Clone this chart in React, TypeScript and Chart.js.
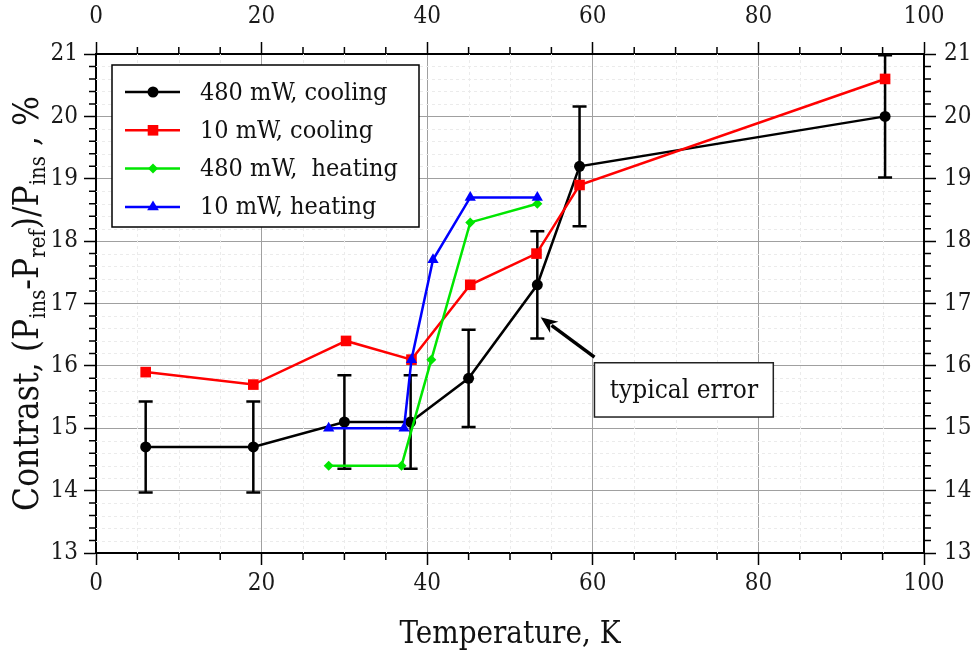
import { useEffect, useRef } from 'react';
import { Chart, registerables } from 'chart.js';

Chart.register(...registerables);

// ---------- data ----------
const seriesLabels = ['480 mW, cooling', '10 mW, cooling', '480 mW,  heating', '10 mW, heating'];

const temperature480Cooling = [6, 19, 30, 38, 45, 53.3, 58.4, 95.3];
const contrast480Cooling = [14.7, 14.7, 15.1, 15.1, 15.8, 17.3, 19.2, 20.0];
const error480Cooling = [0.73, 0.73, 0.75, 0.75, 0.78, 0.86, 0.96, 0.98];

const temperature10Cooling = [6, 19, 30.2, 38.1, 45.2, 53.2, 58.4, 95.3];
const contrast10Cooling = [15.9, 15.7, 16.4, 16.1, 17.3, 17.8, 18.9, 20.6];

const temperature480Heating = [28.1, 36.9, 40.5, 45.2, 53.3];
const contrast480Heating = [14.4, 14.4, 16.1, 18.3, 18.6];

const temperature10Heating = [28.1, 37.2, 38.1, 40.7, 45.2, 53.3];
const contrast10Heating = [15.0, 15.0, 16.1, 17.7, 18.7, 18.7];

const xTickValues = [0, 20, 40, 60, 80, 100];
const yTickValues = [13, 14, 15, 16, 17, 18, 19, 20, 21];

const xAxisTitle = 'Temperature, K';
const annotationText = 'typical error';

// ---------- style ----------
const W = 975;
const H = 657;
const FAMILY = "'DejaVu Serif Condensed', 'DejaVu Serif', serif";
const TICK_FAMILY = "'DejaVu Serif Condensed', 'DejaVu Serif', serif";
const colors = ['#000000', '#ff0000', '#00e600', '#0000ff'];
const pointStyles = ['circle', 'rect', 'rectRot', 'triangle'];
const pointRadii = [5.5, 7.5, 5, 6.5];

const toPoints = (xs: number[], ys: number[]) => xs.map((x, i) => ({ x, y: ys[i] }));

function drawMarker(ctx: CanvasRenderingContext2D, style: string, x: number, y: number, r: number) {
  ctx.beginPath();
  if (style === 'circle') {
    ctx.arc(x, y, r, 0, Math.PI * 2);
  } else if (style === 'rect') {
    const s = r * Math.SQRT1_2;
    ctx.rect(x - s, y - s, 2 * s, 2 * s);
  } else if (style === 'rectRot') {
    ctx.moveTo(x, y - r);
    ctx.lineTo(x + r, y);
    ctx.lineTo(x, y + r);
    ctx.lineTo(x - r, y);
    ctx.closePath();
  } else {
    const h = r * 1.5;
    ctx.moveTo(x, y - r);
    ctx.lineTo(x + r * 0.9, y + h - r);
    ctx.lineTo(x - r * 0.9, y + h - r);
    ctx.closePath();
  }
  ctx.fill();
}

const decorPlugin = {
  id: 'decor',
  beforeDatasetsDraw(chart: any) {
    const { ctx, chartArea: a, scales } = chart;
    const xs = scales.x;
    const ys = scales.y;
    ctx.save();
    // minor dashed grid
    ctx.strokeStyle = '#ebebeb';
    ctx.lineWidth = 1;
    ctx.setLineDash([3, 3]);
    for (let v = 5; v < 100; v += 5) {
      if (v % 20 === 0) continue;
      const px = Math.round(xs.getPixelForValue(v)) + 0.5;
      ctx.beginPath();
      ctx.moveTo(px, a.top);
      ctx.lineTo(px, a.bottom);
      ctx.stroke();
    }
    for (let i = 1; i < 40; i++) {
      if (i % 5 === 0) continue;
      const py = Math.round(ys.getPixelForValue(13 + i * 0.2)) + 0.5;
      ctx.beginPath();
      ctx.moveTo(a.left, py);
      ctx.lineTo(a.right, py);
      ctx.stroke();
    }
    ctx.setLineDash([]);
    // minor ticks (outward)
    ctx.strokeStyle = '#000';
    ctx.lineWidth = 1.5;
    const mt = 7;
    for (let v = 5; v < 100; v += 5) {
      if (v % 20 === 0) continue;
      const px = xs.getPixelForValue(v);
      ctx.beginPath();
      ctx.moveTo(px, a.bottom);
      ctx.lineTo(px, a.bottom + mt);
      ctx.moveTo(px, a.top);
      ctx.lineTo(px, a.top - mt);
      ctx.stroke();
    }
    for (let i = 1; i < 40; i++) {
      if (i % 5 === 0) continue;
      const py = ys.getPixelForValue(13 + i * 0.2);
      ctx.beginPath();
      ctx.moveTo(a.left, py);
      ctx.lineTo(a.left - mt, py);
      ctx.moveTo(a.right, py);
      ctx.lineTo(a.right + mt, py);
      ctx.stroke();
    }
    // error bars for 480 mW cooling
    ctx.strokeStyle = '#000';
    ctx.lineWidth = 2.5;
    const cap = 7;
    temperature480Cooling.forEach((t, i) => {
      const px = xs.getPixelForValue(t);
      const top = ys.getPixelForValue(contrast480Cooling[i] + error480Cooling[i]);
      const bot = ys.getPixelForValue(contrast480Cooling[i] - error480Cooling[i]);
      ctx.beginPath();
      ctx.moveTo(px, top);
      ctx.lineTo(px, bot);
      ctx.moveTo(px - cap, top);
      ctx.lineTo(px + cap, top);
      ctx.moveTo(px - cap, bot);
      ctx.lineTo(px + cap, bot);
      ctx.stroke();
    });
    ctx.restore();
  },
  afterDraw(chart: any) {
    const { ctx, chartArea: a, scales } = chart;
    const xs = scales.x;
    const ys = scales.y;
    ctx.save();

    // legend
    const lx = a.left + 16;
    const ly = a.top + 11;
    const lw = 307;
    const lh = 162;
    ctx.fillStyle = '#fff';
    ctx.fillRect(lx, ly, lw, lh);
    ctx.strokeStyle = '#000';
    ctx.lineWidth = 1.5;
    ctx.strokeRect(lx, ly, lw, lh);
    ctx.font = `25px ${FAMILY}`;
    ctx.textBaseline = 'middle';
    ctx.textAlign = 'left';
    seriesLabels.forEach((label, i) => {
      const ry = ly + 27 + i * 38.3;
      ctx.strokeStyle = colors[i];
      ctx.lineWidth = 2.5;
      ctx.beginPath();
      ctx.moveTo(lx + 13, ry);
      ctx.lineTo(lx + 68, ry);
      ctx.stroke();
      ctx.fillStyle = colors[i];
      drawMarker(ctx, pointStyles[i], lx + 41, ry, pointRadii[i]);
      ctx.fillStyle = '#111';
      ctx.fillText(label, lx + 88, ry + 1);
    });

    // annotation box + arrow
    const bx0 = xs.getPixelForValue(60.2);
    const bx1 = xs.getPixelForValue(81.8);
    const by0 = ys.getPixelForValue(16.05);
    const by1 = ys.getPixelForValue(15.18);
    ctx.fillStyle = '#fff';
    ctx.fillRect(bx0, by0, bx1 - bx0, by1 - by0);
    ctx.strokeStyle = '#222';
    ctx.lineWidth = 1.5;
    ctx.strokeRect(bx0, by0, bx1 - bx0, by1 - by0);
    ctx.fillStyle = '#111';
    ctx.font = `26px ${FAMILY}`;
    ctx.textAlign = 'center';
    ctx.textBaseline = 'middle';
    ctx.fillText(annotationText, (bx0 + bx1) / 2, (by0 + by1) / 2 + 1);

    const tx = xs.getPixelForValue(53.7);
    const ty = ys.getPixelForValue(16.78);
    const sx = xs.getPixelForValue(60.2);
    const sy = ys.getPixelForValue(16.14);
    const ang = Math.atan2(ty - sy, tx - sx);
    const hl = 17;
    const hw = 7;
    ctx.strokeStyle = '#000';
    ctx.lineWidth = 3.5;
    ctx.beginPath();
    ctx.moveTo(sx, sy);
    ctx.lineTo(tx - Math.cos(ang) * hl * 0.8, ty - Math.sin(ang) * hl * 0.8);
    ctx.stroke();
    ctx.fillStyle = '#000';
    ctx.beginPath();
    ctx.moveTo(tx, ty);
    ctx.lineTo(tx - Math.cos(ang) * hl - Math.sin(ang) * hw, ty - Math.sin(ang) * hl + Math.cos(ang) * hw);
    ctx.lineTo(tx - Math.cos(ang) * hl * 0.7, ty - Math.sin(ang) * hl * 0.7);
    ctx.lineTo(tx - Math.cos(ang) * hl + Math.sin(ang) * hw, ty - Math.sin(ang) * hl - Math.cos(ang) * hw);
    ctx.closePath();
    ctx.fill();

    // x axis title
    ctx.fillStyle = '#111';
    ctx.font = `31px ${FAMILY}`;
    ctx.textAlign = 'center';
    ctx.textBaseline = 'alphabetic';
    ctx.fillText(xAxisTitle, (a.left + a.right) / 2, 643);

    // y axis title with subscripts
    const big = `35px ${FAMILY}`;
    const small = `22px ${FAMILY}`;
    const parts: [string, boolean][] = [
      ['Contrast, (P', false],
      ['ins', true],
      ['-P', false],
      ['ref', true],
      [')/P', false],
      ['ins', true],
      [' , %', false],
    ];
    let total = 0;
    const widths = parts.map(([t, sub]) => {
      ctx.font = sub ? small : big;
      const w = ctx.measureText(t).width;
      total += w;
      return w;
    });
    ctx.translate(38, (a.top + a.bottom) / 2);
    ctx.rotate(-Math.PI / 2);
    ctx.textAlign = 'left';
    let u = -total / 2;
    parts.forEach(([t, sub], i) => {
      ctx.font = sub ? small : big;
      ctx.fillText(t, u, sub ? 7 : 0);
      u += widths[i];
    });
    ctx.restore();
  },
};

export default function App() {
  const ref = useRef<HTMLCanvasElement | null>(null);

  useEffect(() => {
    if (!ref.current) return;
    const tickFont = { family: TICK_FAMILY, size: 24 };
    const gridMajor = { color: '#a0a0a0', lineWidth: 1, tickLength: 12, tickColor: '#000', tickWidth: 1.5 };
    const gridSide = { drawOnChartArea: false, tickLength: 12, tickColor: '#000', tickWidth: 1.5 };
    const border = { display: true, color: '#000', width: 2 };
    const xTicks = {
      stepSize: 20,
      font: tickFont,
      color: '#1a1a1a',
      maxRotation: 0,
      autoSkip: false,
      callback: (v: any) => (xTickValues.includes(Number(v)) ? String(v) : ''),
    };
    const yTicks = {
      stepSize: 1,
      font: tickFont,
      color: '#1a1a1a',
      autoSkip: false,
      callback: (v: any) => (yTickValues.includes(Number(v)) ? String(v) : ''),
    };

    const seriesData = [
      toPoints(temperature480Cooling, contrast480Cooling),
      toPoints(temperature10Cooling, contrast10Cooling),
      toPoints(temperature480Heating, contrast480Heating),
      toPoints(temperature10Heating, contrast10Heating),
    ];

    const chart = new Chart(ref.current, {
      type: 'line',
      data: {
        datasets: seriesData.map((data, i) => ({
          label: seriesLabels[i],
          data,
          borderColor: colors[i],
          backgroundColor: colors[i],
          borderWidth: 2.5,
          pointStyle: pointStyles[i] as any,
          pointRadius: pointRadii[i],
          pointBorderWidth: 0,
          pointBackgroundColor: colors[i],
          tension: 0,
          order: 4 - i,
          clip: false as any,
        })),
      },
      plugins: [decorPlugin],
      options: {
        responsive: false,
        animation: false,
        events: [],
        devicePixelRatio: 1,
        layout: { padding: 0 },
        plugins: { legend: { display: false }, tooltip: { enabled: false } },
        scales: {
          x: {
            type: 'linear',
            position: 'bottom',
            min: 0,
            max: 100,
            ticks: { ...xTicks, padding: 4 },
            grid: gridMajor,
            border,
            afterFit: (s: any) => {
              s.height = 104;
            },
          },
          x2: {
            type: 'linear',
            axis: 'x',
            position: 'top',
            min: 0,
            max: 100,
            ticks: { ...xTicks, padding: 11 },
            grid: gridSide,
            border,
            afterFit: (s: any) => {
              s.height = 54;
            },
          },
          y: {
            type: 'linear',
            position: 'left',
            min: 13,
            max: 21,
            ticks: { ...yTicks, padding: 6 },
            grid: gridMajor,
            border,
            afterFit: (s: any) => {
              s.width = 96;
            },
          },
          y2: {
            type: 'linear',
            axis: 'y',
            position: 'right',
            min: 13,
            max: 21,
            ticks: { ...yTicks, padding: 8 },
            grid: gridSide,
            border,
            afterFit: (s: any) => {
              s.width = 51;
            },
          },
        } as any,
      },
    });
    return () => chart.destroy();
  }, []);

  return (
    <div style={{ position: 'absolute', left: 0, top: 0, width: W, height: H, background: '#fff' }}>
      <canvas ref={ref} width={W} height={H} style={{ display: 'block', width: W, height: H }} />
    </div>
  );
}
